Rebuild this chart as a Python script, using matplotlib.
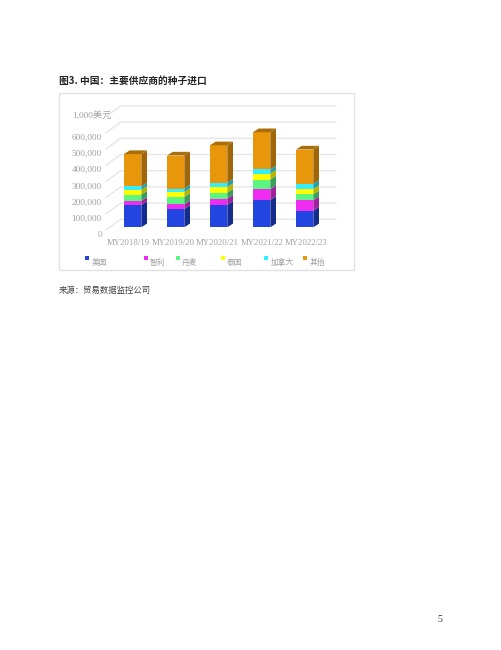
"""中国种子进口 3D 堆积柱形图"""
import numpy as np
import matplotlib
matplotlib.use("Agg")
import matplotlib.pyplot as plt
from matplotlib.patches import Polygon, Rectangle
from matplotlib.transforms import ScaledTranslation

plt.rcParams['font.family'] = ['Noto Sans CJK SC', 'DejaVu Sans']

W, H = 502, 650

years = ['MY2018/19', 'MY2019/20', 'MY2020/21', 'MY2021/22', 'MY2022/23']
suppliers = ['美国', '智利', '丹麦', '泰国', '加拿大', '其他']
us = [138, 113, 138, 169, 103]
chile = [25, 29, 39, 66, 64]
denmark = [39, 45, 37, 60, 37]
thailand = [29, 31, 35, 37, 33]
canada = [21, 21, 27, 25, 31]
other = [200, 204, 230, 230, 212]
grid_vals = [0, 100, 200, 300, 400, 500, 600, 700]
tick_vals = [0, 100, 200, 300, 400, 500, 600]
tick_labels = ['0', '100,000', '200,000', '300,000', '400,000', '500,000', '600,000']

front = ['#2244E0', '#EE2BEE', '#5CF57F', '#FFFF00', '#33EEFF', '#E8960A']
side = ['#152C8F', '#A020A0', '#3A9E58', '#B5B500', '#20A0AC', '#A06608']
top_col = '#AA6F06'
series = [us, chile, denmark, thailand, canada, other]

GREY = '#a0a0a0'
SERIF = ['Liberation Serif', 'Noto Sans CJK SC']

fig = plt.figure(figsize=(W / 100, H / 100), dpi=100, facecolor='white')

# 页面层：像素坐标
page = fig.add_axes([0, 0, 1, 1])
page.set_xlim(0, W); page.set_ylim(H, 0); page.axis('off')
page.add_patch(Rectangle((59, 93.3), 295.3, 176.7, fc='white', ec='#e2e2e2', lw=1))
page.text(59, 83.3, '图3. 中国：主要供应商的种子进口', fontsize=7.0, fontweight='bold',
          color='#222222', va='baseline')
page.text(59, 293.3, '来源：贸易数据监控公司', fontsize=6.0, color='#444444', va='baseline')
page.text(440, 619, '5', fontsize=7, family=SERIF, color='#333333', ha='center', va='center')
page.text(72.7, 115.7, '1,000美元', fontsize=6.7, family=SERIF, color=GREY, va='center')

legend_mark = [87.3, 145.7, 177.7, 222.7, 266, 305]
for name, c, mx in zip(suppliers, front, legend_mark):
    page.add_patch(Rectangle((mx - 2, 256.3), 4, 4, fc=c, ec='none'))
    page.text(mx + 4.4, 264.5, name, fontsize=5.6, color=GREY, va='baseline')

# 图表层：0 位于 y=227.3px，100 千美元 = 16.2px，类别间距 43px
px_x, px_y = 43.0, 16.2 / 100
left, right, y0, top = 106, 336, 227.3, 110
ax = fig.add_axes([left / W, 1 - y0 / H, (right - left) / W, (y0 - top) / H])
ax.set_xlim((left - 132.65) / px_x, (right - 132.65) / px_x)
ax.set_ylim(0, (y0 - top) / px_y)
ax.patch.set_alpha(0)
for s in ax.spines.values():
    s.set_visible(False)

# 背景网格（斜线 + 后墙横线）
floor_dy = 2.7 / px_y
wall_dy = 8 / px_y
wall_dx = 14.7 / px_x
x_front = ax.get_xlim()[0]
for v in grid_vals:
    ax.plot([x_front, x_front + wall_dx, ax.get_xlim()[1]],
            [v - floor_dy, v + wall_dy, v + wall_dy],
            color='#e6e6e6', lw=1, clip_on=False, zorder=1)

# 柱子
x = np.arange(len(years))
bw = 17.3 / px_x
dx = 5.7 / px_x
dy = 3.7 / px_y
bottom = np.zeros(len(years))
for vals, c, sc in zip(series, front, side):
    vals = np.array(vals)
    ax.bar(x, vals, bw, bottom=bottom, color=c, zorder=3)
    for xi, b, v in zip(x, bottom, vals):
        xr = xi + bw / 2
        ax.add_patch(Polygon([(xr, b), (xr + dx, b + dy), (xr + dx, b + v + dy), (xr, b + v)],
                             fc=sc, ec='none', zorder=3))
    bottom = bottom + vals
for xi, t in zip(x, bottom):
    xl, xr = xi - bw / 2, xi + bw / 2
    ax.add_patch(Polygon([(xl, t), (xr, t), (xr + dx, t + dy), (xl + dx, t + dy)],
                         fc=top_col, ec='none', zorder=3))

# 坐标轴文字
ax.set_yticks(tick_vals)
ax.set_yticklabels(tick_labels, family=SERIF, fontsize=6.7, color=GREY)
ax.tick_params(axis='y', length=0, pad=3.0)
for lab in ax.get_yticklabels():
    lab.set_transform(lab.get_transform() + ScaledTranslation(0, -6.7 / 100, fig.dpi_scale_trans))

label_x = (128.7 - 132.65) / px_x + x * (44.4 / px_x)
ax.set_xticks(label_x)
ax.set_xticklabels(years, family=SERIF, fontsize=6.3, color=GREY)
ax.tick_params(axis='x', length=0, pad=8.5)

fig.savefig('out.png', dpi=100)
